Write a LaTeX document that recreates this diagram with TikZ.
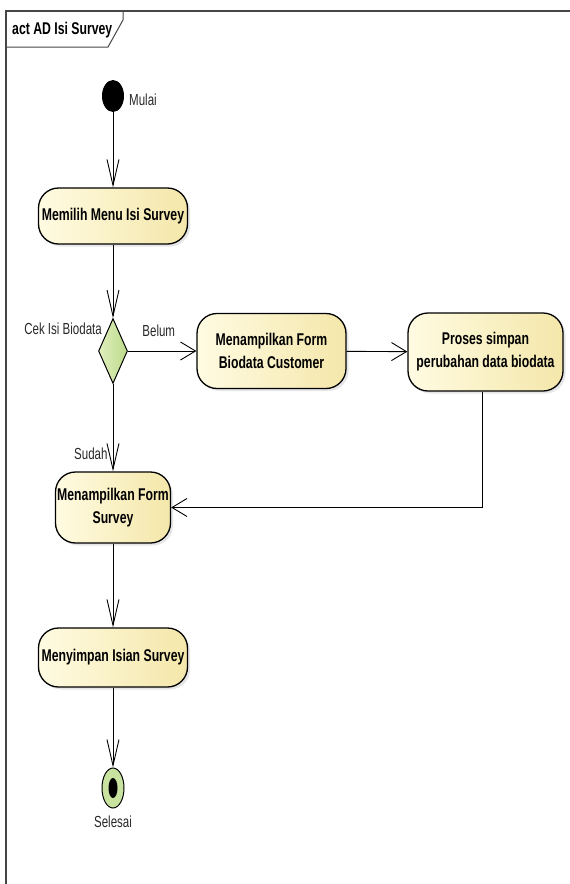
\documentclass[tikz,border=0pt]{standalone}
\usepackage{fontspec}
\setmainfont{Liberation Sans}[FakeStretch=0.72]
\usetikzlibrary{arrows.meta,shapes.geometric,shadows}
\definecolor{actleft}{RGB}{255,251,226}
\definecolor{actright}{RGB}{244,231,170}
\definecolor{decleft}{RGB}{224,239,190}
\definecolor{decright}{RGB}{188,218,138}
\definecolor{finfill}{RGB}{200,226,160}
\definecolor{framecol}{RGB}{70,70,70}
\definecolor{lblcol}{RGB}{40,40,40}
\tikzset{
  action/.style={draw=black, line width=1.3pt, rounded corners=20pt,
    left color=actleft, right color=actright, align=center, inner sep=0pt,
    font=\fontsize{17}{23}\selectfont\bfseries,
    drop shadow={shadow xshift=2.5pt, shadow yshift=-2.5pt, opacity=0.2}},
  decision/.style={diamond, draw=black, line width=1pt, inner sep=0pt,
    left color=decleft, right color=decright},
  lbl/.style={font=\fontsize{16}{19}\selectfont, text=lblcol, inner sep=0pt},
  vflow/.style={draw, line width=0.9pt, -{Straight Barb[length=26pt,width=12pt]}},
  hflow/.style={draw, line width=0.9pt, -{Straight Barb[length=15pt,width=18pt]}}
}
\begin{document}
\begin{tikzpicture}[x=1pt,y=-1pt]
   \useasboundingbox (0,0) rectangle (570,884);
   % frame
   \draw[framecol, line width=1.4pt] (6,890) -- (6,11) -- (575,11);
   \draw[framecol, line width=1pt] (6,47) -- (108,47) -- (123,20) -- (123,11);
   \node[anchor=west, inner sep=0pt, font=\fontsize{17}{20}\selectfont\bfseries] (title) at (12,30) {act AD Isi Survey};

   % nodes
   \node[ellipse, fill=black, minimum width=22pt, minimum height=32pt, inner sep=0pt] (start) at (113,96) {};
   \node[lbl, anchor=west] (mulai) at (129,100) {Mulai};
   \node[action, minimum width=149pt, minimum height=56pt] (act1) at (113,216) {Memilih Menu Isi Survey};
   \node[decision, minimum width=29pt, minimum height=65pt] (dec) at (113,351) {};
   \node[lbl, anchor=east] (cek) at (102,329) {Cek Isi Biodata};
   \node[action, minimum width=149pt, minimum height=75pt] (act2) at (271.5,351) {Menampilkan Form\\Biodata Customer};
   \node[action, minimum width=155pt, minimum height=78pt] (act3) at (485.5,352) {Proses simpan\\perubahan data biodata};
   \node[action, minimum width=115pt, minimum height=71pt] (act4) at (113,507.5) {Menampilkan Form\\Survey};
   \node[action, minimum width=149pt, minimum height=59pt] (act5) at (113,657.5) {Menyimpan Isian Survey};
   \node[ellipse, draw=black, line width=1pt, fill=finfill, minimum width=22pt, minimum height=40pt, inner sep=0pt] (fin) at (113,788) {};
   \node[ellipse, fill=black, minimum width=9pt, minimum height=20pt, inner sep=0pt] (findot) at (fin) {};
   \node[lbl] (selesai) at (113,822) {Selesai};

   % connectors
   \draw[vflow] (start) -- (act1);
   \draw[vflow] (act1) -- (dec);
   \draw[hflow] (dec) -- (act2) node[lbl, pos=0.45, above=14pt] (belum) {Belum};
   \draw[hflow] (act2) -- (act3);
   \draw[vflow] (dec) -- (act4) node[lbl, pos=0.8, left=5pt] (sudah) {Sudah};
   \draw[hflow] ([xshift=-3.5pt]act3.south) |- (act4.east);
   \draw[vflow] (act4) -- (act5);
   \draw[vflow] (act5) -- (fin);
 \end{tikzpicture}
\end{document}
